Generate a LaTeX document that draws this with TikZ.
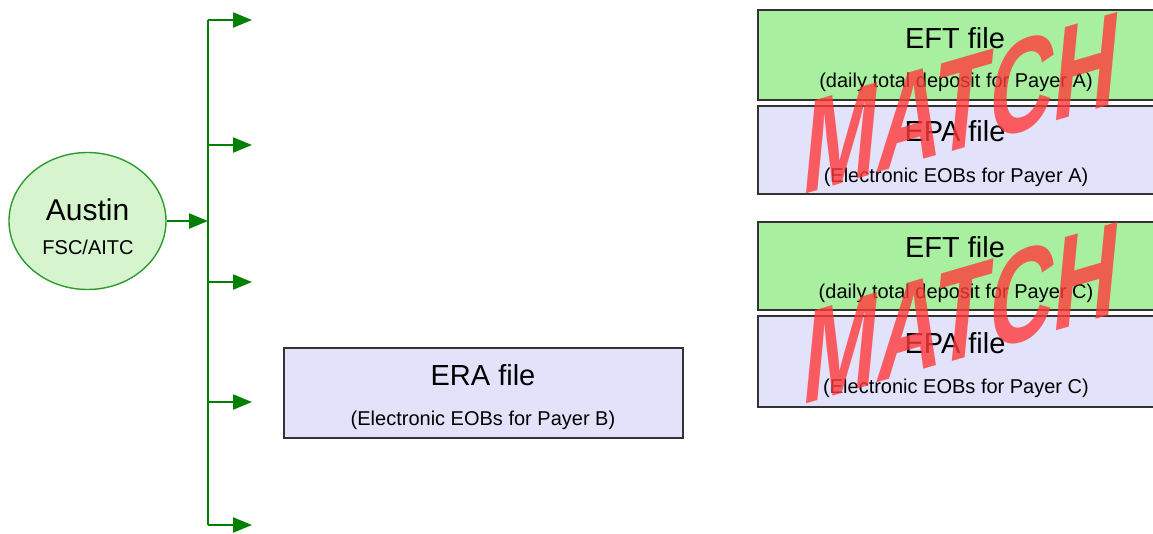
\documentclass[tikz,border=0pt]{standalone}
\usepackage{fontspec}
\setmainfont{Liberation Sans}
\usetikzlibrary{arrows.meta,shapes.geometric}
\definecolor{linegreen}{HTML}{008000}
\definecolor{eftfill}{HTML}{A8F0A0}
\definecolor{epafill}{HTML}{E2E2FA}
\definecolor{circfill}{HTML}{D6F4CE}
\definecolor{circline}{HTML}{2E9A2E}
\definecolor{boxline}{HTML}{333333}
\definecolor{stampred}{HTML}{FF3A3A}
\tikzset{
  bus/.style={draw=linegreen, line width=2.2pt},
  arr/.style={bus, -{Triangle[length=19pt,width=15pt]}},
  filebox/.style={draw=boxline, line width=1.6pt},
  bigtxt/.style={font=\fontsize{29}{30}\selectfont, inner sep=0pt},
  smalltxt/.style={font=\fontsize{20}{21}\selectfont, inner sep=0pt},
  stamp/.style={font=\fontsize{89}{90}\bfseries\selectfont, text=stampred, opacity=0.8, inner sep=0pt, transform shape}
}
\begin{document}
\begin{tikzpicture}[x=1pt,y=-1pt]
\useasboundingbox (0,0) rectangle (1153,533);
\begin{scope}
\clip (0,0) rectangle (1153,533);
% boxes
\draw[filebox, fill=eftfill] (758,10) rectangle (1160,100);
\draw[filebox, fill=epafill] (758,106) rectangle (1160,194);
\draw[filebox, fill=eftfill] (758,222) rectangle (1160,310);
\draw[filebox, fill=epafill] (758,316) rectangle (1160,407);
\draw[filebox, fill=epafill] (284,348) rectangle (683,438);
\end{scope}
% texts
\node[bigtxt] (efta) at (955,38) {EFT file};
\node[smalltxt] (eftas) at (956,82) {(daily total deposit for Payer A)};
\node[bigtxt] (epaa) at (955,131) {EPA file};
\node[smalltxt] (epaas) at (956,177) {(Electronic EOBs for Payer A)};
\node[bigtxt] (eftc) at (955,247) {EFT file};
\node[smalltxt] (eftcs) at (956,293) {(daily total deposit for Payer C)};
\node[bigtxt] (epac) at (955,343) {EPA file};
\node[smalltxt] (epacs) at (956,388) {(Electronic EOBs for Payer C)};
\node[bigtxt] (era) at (483,375) {ERA file};
\node[smalltxt] (eras) at (483,420) {(Electronic EOBs for Payer B)};
% stamps
\begin{scope}[shift={(962,103)}, yslant=0.29, xslant=0.1, yscale=1.48]
\node[stamp] (stampa) at (0,0) {MATCH};
\end{scope}
\begin{scope}[shift={(962,313)}, yslant=0.29, xslant=0.1, yscale=1.48]
\node[stamp] (stampc) at (0,0) {MATCH};
\end{scope}
% circle
\node[ellipse, draw=circline, line width=1.4pt, fill=circfill, minimum width=157pt, minimum height=137pt, inner sep=0pt] (austin) at (87.5,221) {};
\node[font=\fontsize{30}{31}\selectfont, inner sep=0pt] (austint) at (87.5,210) {Austin};
\node[font=\fontsize{20}{21}\selectfont, inner sep=0pt] (fsc) at (88,247) {FSC/AITC};
% bus
\coordinate (top) at (208,20);
\coordinate (bot) at (208,525);
\coordinate (hub) at (208,221);
\coordinate (b1) at (208,145);
\coordinate (b2) at (208,282);
\coordinate (b3) at (208,402);
\coordinate (t0) at (252,20);
\coordinate (t1) at (252,145);
\coordinate (t2) at (252,282);
\coordinate (t3) at (252,402);
\coordinate (t4) at (252,525);
\draw[bus] (top) -- (bot);
\draw[arr] (austin.east) -- (hub);
\draw[arr] (top) -- (t0);
\draw[arr] (b1) -- (t1);
\draw[arr] (b2) -- (t2);
\draw[arr] (b3) -- (t3);
\draw[arr] (bot) -- (t4);
\end{tikzpicture}
\end{document}
